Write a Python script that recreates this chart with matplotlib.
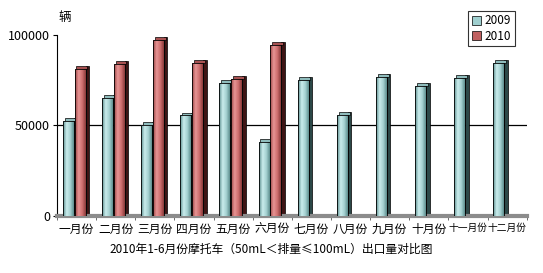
import matplotlib.pyplot as plt
import numpy as np
from matplotlib.colors import LinearSegmentedColormap
from matplotlib.patches import Patch

plt.rcParams['font.family'] = ['Noto Sans CJK SC', 'DejaVu Sans']

months = ['一月份', '二月份', '三月份', '四月份', '五月份', '六月份',
          '七月份', '八月份', '九月份', '十月份', '十一月份', '十二月份']
sales_2009 = [52500, 65000, 50500, 55500, 73500, 41000,
              75000, 56000, 77000, 72000, 76000, 84500]
sales_2010 = [81000, 84000, 97000, 84500, 75500, 94500]

fig = plt.figure(figsize=(5.43, 2.73), dpi=100)
ax = fig.add_axes([0.105, 0.209, 0.865, 0.663])

x = np.arange(len(months))
w = 0.28
depth = 0.09
cap = 1600

cmap09 = LinearSegmentedColormap.from_list('c09', ['#5a8c8c', '#c9ecec', '#a6d2d2', '#5e8e8e'])
cmap10 = LinearSegmentedColormap.from_list('c10', ['#9a4444', '#e79494', '#cf7070', '#8a3a3a'])
grad = np.linspace(0, 1, 64).reshape(1, -1)


def draw_series(xs, vals, side_col, cap_col, cmap):
    xs = np.asarray(xs, dtype=float)
    # side face and top cap for a simple 3D look
    ax.bar(xs + w / 2 + depth / 2, np.array(vals) + cap, width=depth,
           color=side_col, edgecolor='black', linewidth=0.5, zorder=2)
    ax.bar(xs + depth / 2, cap, bottom=vals, width=w,
           color=cap_col, edgecolor='black', linewidth=0.5, zorder=2)
    bars = ax.bar(xs, vals, width=w, color='none', edgecolor='black',
                  linewidth=0.6, zorder=4)
    for b in bars:
        im = ax.imshow(grad, cmap=cmap, aspect='auto', zorder=3,
                       extent=[b.get_x(), b.get_x() + b.get_width(), 0, b.get_height()])
        im.set_clip_path(b)


draw_series(x - 0.21, sales_2009, '#2c4848', '#8fbcbc', cmap09)
draw_series(x[:len(sales_2010)] + 0.09, sales_2010, '#3e1414', '#a85252', cmap10)

ax.axhline(50000, color='black', linewidth=0.9, zorder=1)

ax.set_xlim(-0.5, len(months) - 0.5)
ax.set_ylim(0, 100000)
ax.set_yticks([0, 50000, 100000])
ax.set_yticklabels(['0', '50000', '100000'], fontsize=9)
ax.set_xticks(x)
ax.set_xticklabels(months, fontsize=8.5)
for lbl in ax.get_xticklabels():
    if len(lbl.get_text()) > 3:
        lbl.set_fontsize(7)
ax.set_xticks(np.arange(len(months) + 1) - 0.5, minor=True)
ax.tick_params(axis='x', which='major', length=0, pad=5)
ax.tick_params(axis='x', which='minor', length=3, color='#555555')
ax.tick_params(axis='y', length=3, pad=2)

for s in ['top', 'right']:
    ax.spines[s].set_visible(False)
ax.spines['left'].set_linewidth(0.8)
ax.spines['bottom'].set_color('#8c8c8c')
ax.spines['bottom'].set_linewidth(3)

fig.text(0.107, 0.935, '辆', fontsize=9, ha='left', va='center')
fig.text(0.5, 0.085, '2010年1-6月份摩托车（50mL＜排量≤100mL）出口量对比图',
         fontsize=8.5, ha='center', va='center')

handles = [Patch(facecolor='#9fcfcf', edgecolor='black', linewidth=0.5, label='2009'),
           Patch(facecolor='#c06060', edgecolor='black', linewidth=0.5, label='2010')]
leg = fig.legend(handles=handles, loc='upper left', bbox_to_anchor=(0.862, 0.96),
                 fontsize=8.5, frameon=True, fancybox=False, edgecolor='black',
                 handlelength=0.8, handleheight=0.8, handletextpad=0.3,
                 borderpad=0.3, labelspacing=0.2, borderaxespad=0)
leg.get_frame().set_linewidth(0.8)

fig.savefig('out.png', dpi=100)
